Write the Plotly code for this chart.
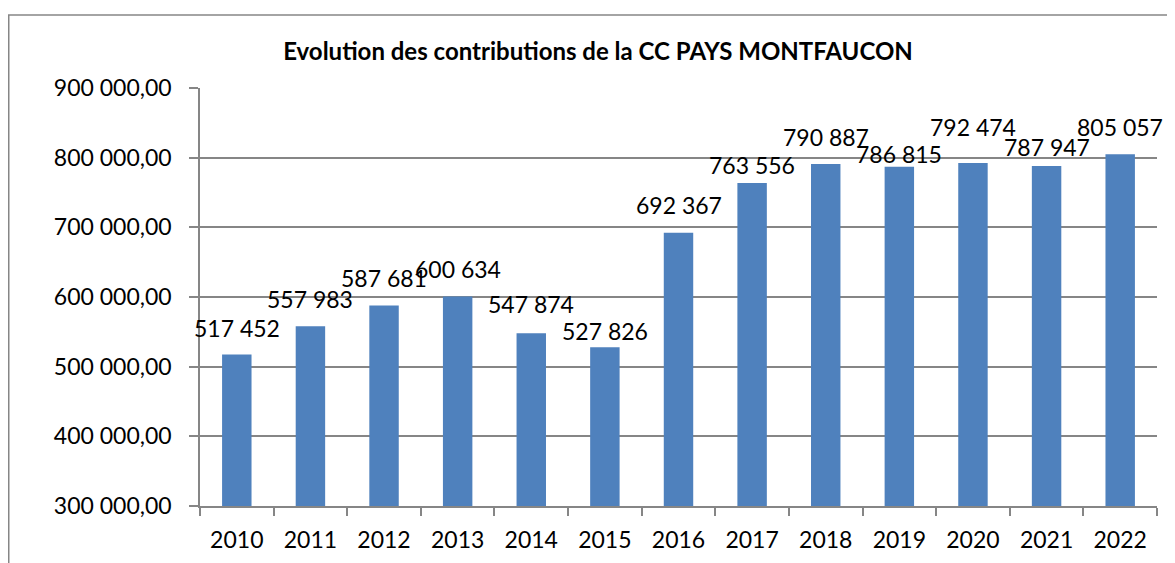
import plotly.graph_objects as go

years = ["2010", "2011", "2012", "2013", "2014", "2015", "2016",
         "2017", "2018", "2019", "2020", "2021", "2022"]
contributions = [517452, 557983, 587681, 600634, 547874, 527826, 692367,
                 763556, 790887, 786815, 792474, 787947, 805057]
y_ticks = [300000, 400000, 500000, 600000, 700000, 800000, 900000]

# extra lift (px) of each data label above its bar, as placed in the original
label_lift = [11, 11, 12, 12, 13, 0, 12, 2, 11, -3, 20, 3, 11]

font_name = "Lato, Open Sans, sans-serif"
grey = "#868686"

# the page body has an 8px margin, so the figure is 8px smaller than the window
W, H = 1167, 555

fig = go.Figure(go.Bar(
    x=years,
    y=contributions,
    marker=dict(color="#4F81BD", line=dict(width=0)),
    hoverinfo="x+y",
))

# data labels (x given as the category index so the axis keeps its categories)
for i, val in enumerate(contributions):
    fig.add_annotation(
        x=i, y=val, text=f"{val:,}".replace(",", " "),
        showarrow=False, yanchor="bottom", yshift=label_lift[i],
        font=dict(family=font_name, size=23, color="black"),
    )

fig.update_layout(
    width=W, height=H,
    margin=dict(l=192, r=18, t=80, b=57),
    paper_bgcolor="white", plot_bgcolor="white",
    separators=", ",
    showlegend=False,
    bargap=0.6,
    title=dict(text="<b>Evolution des contributions de la CC PAYS MONTFAUCON</b>",
               font=dict(family=font_name, size=24, color="black"),
               xref="container", x=590 / W, xanchor="center",
               yref="container", y=1 - 44 / H, yanchor="middle"),
    shapes=[dict(type="path", xref="paper", yref="paper",
                 path="M -0.19984,-0.5 L -0.19984,1.17464 L 1.2,1.17464",
                 line=dict(color=grey, width=1.5))],
)

fig.update_xaxes(
    type="category",
    categoryorder="array", categoryarray=years,
    range=[-0.5, len(years) - 0.5],
    automargin=False,
    showline=True, linecolor=grey, linewidth=1.5,
    ticks="outside", tickson="boundaries", ticklen=8, tickcolor=grey, tickwidth=1.5,
    ticklabelstandoff=13, tickangle=0,
    tickfont=dict(family=font_name, size=23, color="black"),
    showgrid=False,
)
fig.update_yaxes(
    range=[300000, 900000],
    tickvals=y_ticks,
    tickformat=",.2f",
    automargin=False,
    showline=True, linecolor=grey, linewidth=1.5,
    ticks="outside", ticklen=9, tickcolor=grey, tickwidth=1.5,
    ticklabelstandoff=13,
    tickfont=dict(family=font_name, size=23, color="black"),
    showgrid=True, gridcolor=grey, gridwidth=1.5,
    zeroline=False,
)

fig.write_html("out.html")
